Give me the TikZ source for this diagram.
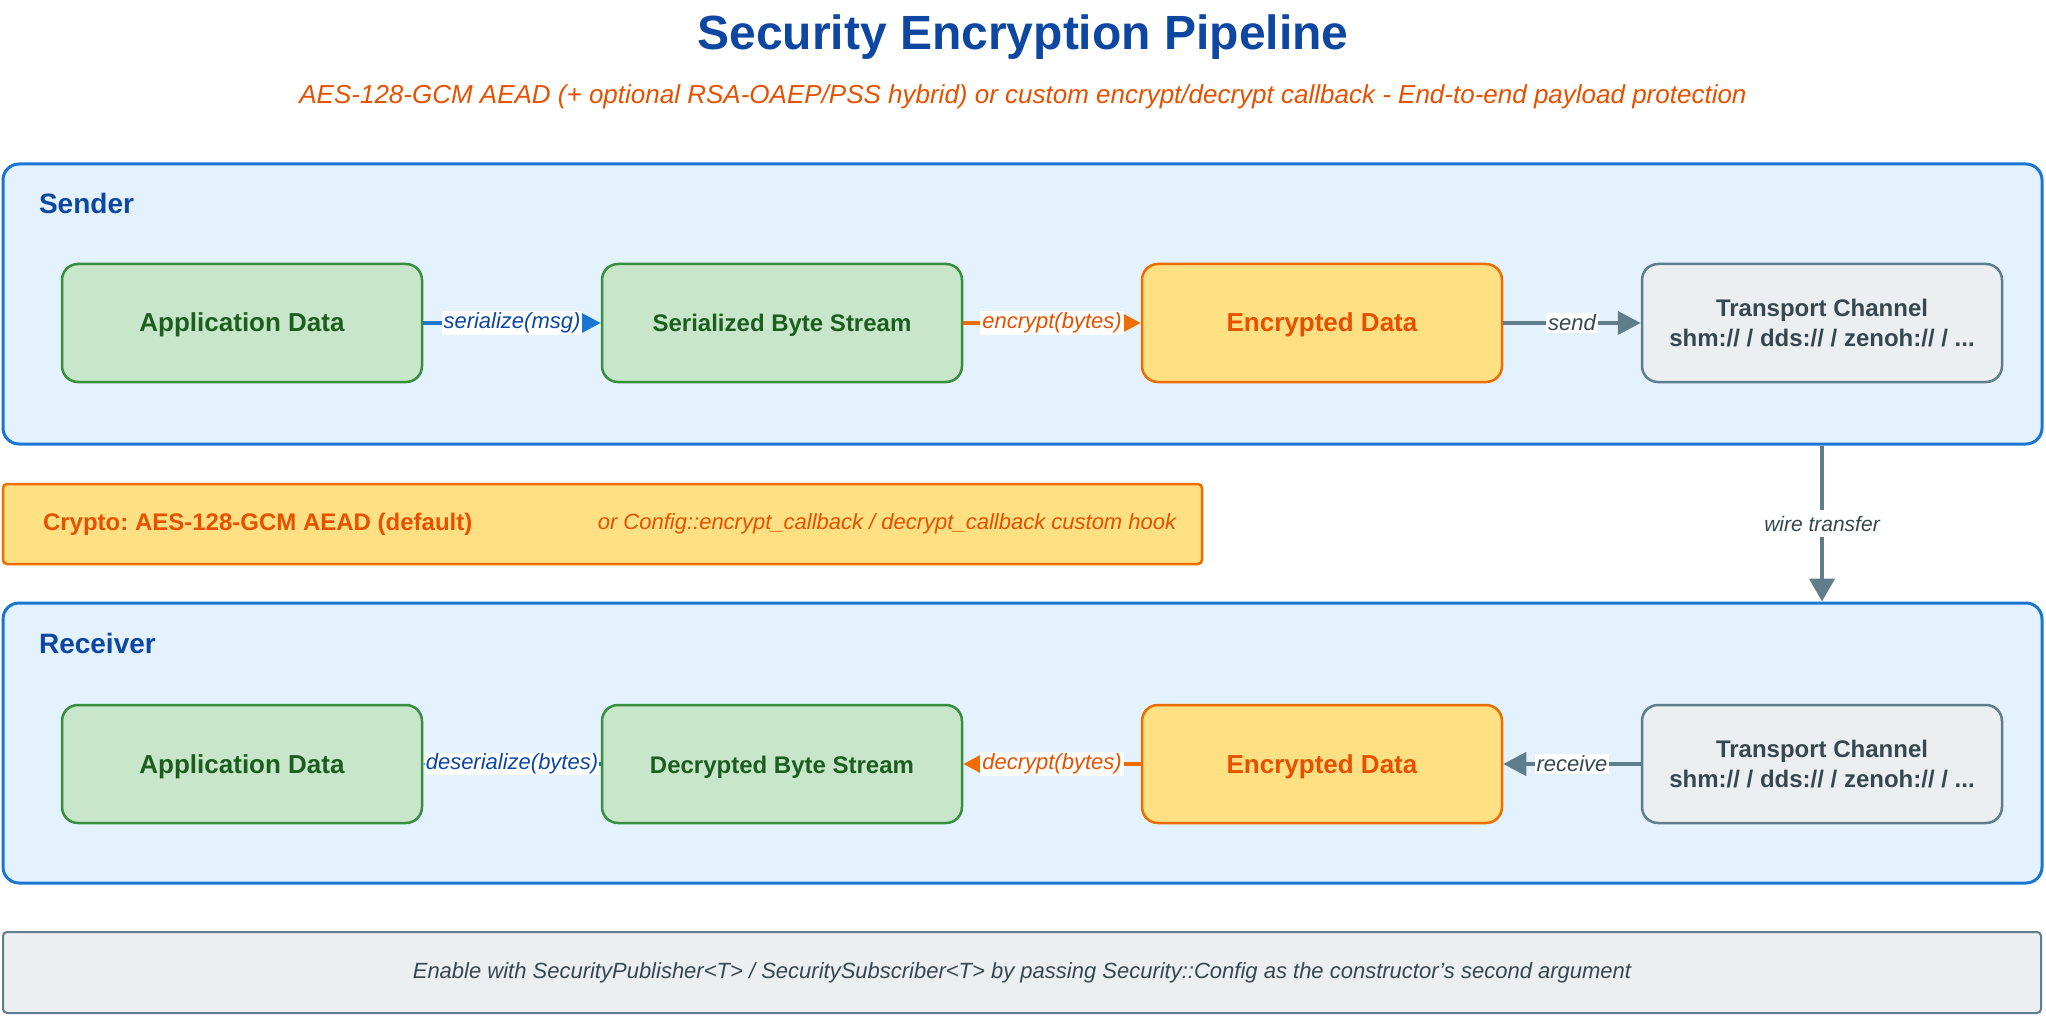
\documentclass[tikz,border=0pt]{standalone}
\usepackage{fontspec}
\setmainfont{Liberation Sans}
\usetikzlibrary{arrows.meta, positioning}
\frenchspacing

\definecolor{titleblue}{HTML}{0D47A1}
\definecolor{subtorange}{HTML}{E65100}
\definecolor{laneline}{HTML}{1976D2}
\definecolor{lanefill}{HTML}{E3F2FD}
\definecolor{appline}{HTML}{388E3C}
\definecolor{appfill}{HTML}{C8E6C9}
\definecolor{apptext}{HTML}{1B5E20}
\definecolor{encline}{HTML}{EF6C00}
\definecolor{encfill}{HTML}{FFE082}
\definecolor{slateline}{HTML}{607D8B}
\definecolor{slatefill}{HTML}{ECEFF1}
\definecolor{slatetext}{HTML}{37474F}

\begin{document}
\begin{tikzpicture}[x=0.5pt, y=-0.5pt,
  lane/.style={draw=laneline, fill=lanefill, line width=1.5pt, rounded corners=8pt,
    minimum width=1019.5pt, minimum height=140pt},
  lanetitle/.style={anchor=west, text=titleblue, font=\bfseries\fontsize{14}{16}\selectfont},
  databox/.style={draw=appline, fill=appfill, text=apptext, line width=1.25pt, rounded corners=8pt,
    minimum width=180pt, minimum height=59pt, align=center, text height=12pt, text depth=3pt,
    font=\bfseries\fontsize{13}{15}\selectfont},
  encbox/.style={databox, draw=encline, fill=encfill, text=subtorange},
  chanbox/.style={draw=slateline, fill=slatefill, text=slatetext, line width=1.25pt, rounded corners=8pt,
    minimum width=180pt, minimum height=59pt, align=center, font=\bfseries\fontsize{12}{15}\selectfont},
  flow/.style={line width=2pt, -{Triangle[length=10pt, width=10pt]}},
  flowlabel/.style={fill=white, inner sep=1pt, font=\itshape\fontsize{11}{13}\selectfont},
]
\useasboundingbox (0,0) rectangle (2046,1016);

% Title and subtitle
\node[text=titleblue, font=\bfseries\fontsize{24}{28}\selectfont] (title) at (1023,37) {Security Encryption Pipeline};
\node[text=subtorange, font=\itshape\fontsize{13}{15}\selectfont] (subtitle) at (1023,97)
  {AES-128-GCM AEAD (+ optional RSA-OAEP/PSS hybrid) or custom encrypt/decrypt callback - End-to-end payload protection};

% Lanes
\node[lane] (sender) at (1022.5,304) {};
\node[lanetitle] (sendertitle) at (32,203) {Sender};
\node[lane] (receiver) at (1022.5,743) {};
\node[lanetitle] (receivertitle) at (32,643) {Receiver};

% Sender row
\node[databox] (app1) at (242,323) {Application Data};
\node[databox, font=\bfseries\fontsize{12}{15}\selectfont] (ser) at (782,323) {Serialized Byte Stream};
\node[encbox] (enc1) at (1322,323) {Encrypted Data};
\node[chanbox] (tx) at (1822,323) {Transport Channel\\shm:// / dds:// / zenoh:// / ...};

% Receiver row
\node[databox] (app2) at (242,764) {Application Data};
\node[databox, font=\bfseries\fontsize{12}{15}\selectfont] (dec) at (782,764) {Decrypted Byte Stream};
\node[encbox] (enc2) at (1322,764) {Encrypted Data};
\node[chanbox] (rx) at (1822,764) {Transport Channel\\shm:// / dds:// / zenoh:// / ...};

% Sender arrows
\draw[flow, laneline] (app1) -- node[flowlabel, text=titleblue] {serialize(msg)} (ser);
\draw[flow, encline] (ser) -- node[flowlabel, text=subtorange] {encrypt(bytes)} (enc1);
\draw[flow, slateline, line width=2.2pt, -{Triangle[length=11.5pt, width=11.5pt]}] (enc1) -- node[flowlabel, text=slatetext] {send} (tx);

% Receiver arrows
\draw[flow, slateline, line width=2.2pt, -{Triangle[length=11.5pt, width=11.5pt]}] (rx) -- node[flowlabel, text=slatetext] {receive} (enc2);
\draw[flow, encline] (enc2) -- node[flowlabel, text=subtorange] {decrypt(bytes)} (dec);
\draw[flow, laneline] (dec) -- node[flowlabel, inner sep=0.5pt, text=titleblue] {deserialize(bytes)} (app2);

% Wire transfer between lanes
\draw[slateline, line width=2.4pt, -{Triangle[length=11.5pt, width=12.5pt]}] (tx |- sender.south) --
  node[fill=white, inner sep=3pt, text=slatetext, font=\itshape\fontsize{10.5}{13}\selectfont] {wire transfer} (rx |- receiver.north);

% Crypto note
\node[draw=encline, fill=encfill, line width=1.25pt, rounded corners=2pt, minimum width=599.5pt, minimum height=40pt] (crypto) at (602.5,524) {};
\node[anchor=west, text=subtorange, font=\bfseries\fontsize{12}{14}\selectfont] (cryptoalg) at (36,524) {Crypto: AES-128-GCM AEAD (default)};
\node[text=subtorange, font=\itshape\fontsize{11}{13}\selectfont] (cryptohook) at (887,524) {or Config::encrypt\_callback / decrypt\_callback custom hook};

% Footer
\node[draw=slateline, fill=slatefill, line width=1pt, rounded corners=2pt, minimum width=1019pt, minimum height=40.5pt,
  text=slatetext, font=\itshape\fontsize{11}{13}\selectfont] (footer) at (1022,972.5)
  {Enable with SecurityPublisher<T> / SecuritySubscriber<T> by passing Security::Config as the constructor's second argument};
\end{tikzpicture}
\end{document}
